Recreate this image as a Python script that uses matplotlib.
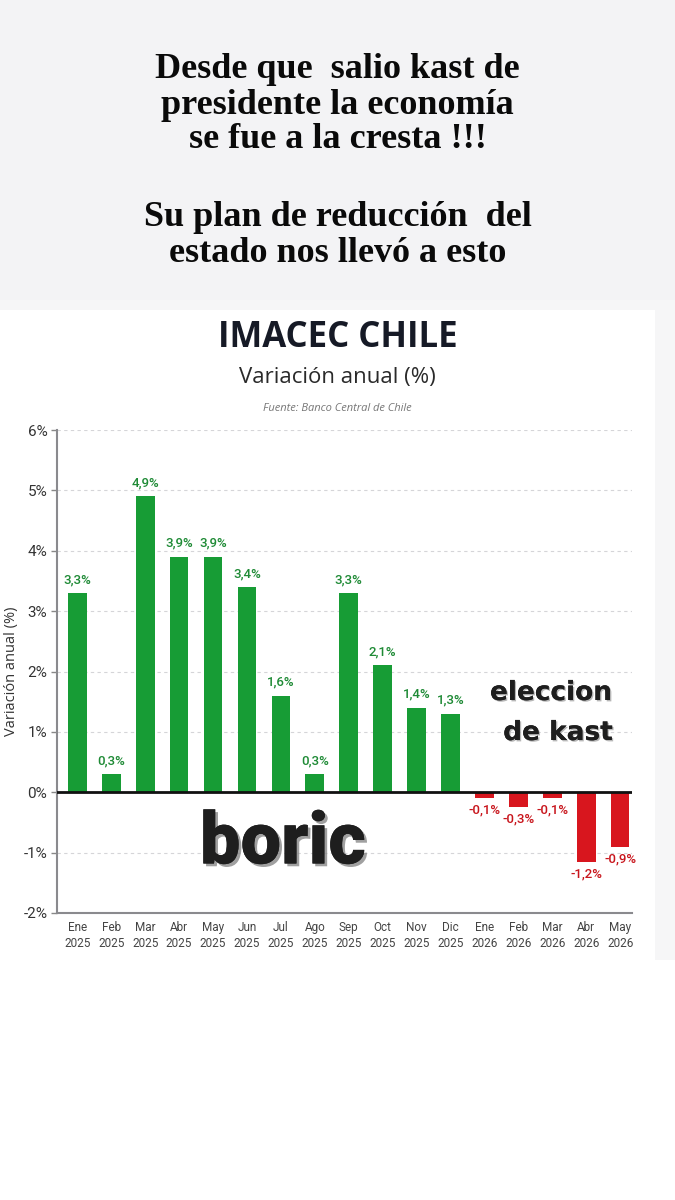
import matplotlib
matplotlib.use("Agg")
import matplotlib.pyplot as plt
import matplotlib.patheffects as pe
from matplotlib.patches import Rectangle

months = ["Ene\n2025", "Feb\n2025", "Mar\n2025", "Abr\n2025", "May\n2025", "Jun\n2025",
          "Jul\n2025", "Ago\n2025", "Sep\n2025", "Oct\n2025", "Nov\n2025", "Dic\n2025",
          "Ene\n2026", "Feb\n2026", "Mar\n2026", "Abr\n2026", "May\n2026"]
values = [3.3, 0.3, 4.9, 3.9, 3.9, 3.4, 1.6, 0.3, 3.3, 2.1, 1.4, 1.3,
          -0.1, -0.25, -0.1, -1.16, -0.9]
labels = ["3,3%", "0,3%", "4,9%", "3,9%", "3,9%", "3,4%", "1,6%", "0,3%", "3,3%", "2,1%",
          "1,4%", "1,3%", "-0,1%", "-0,3%", "-0,1%", "-1,2%", "-0,9%"]
yticks = [-2, -1, 0, 1, 2, 3, 4, 5, 6]
ytick_labels = ["-2%", "-1%", "0%", "1%", "2%", "3%", "4%", "5%", "6%"]

NARROW = ["Roboto", "DejaVu Sans"]

fig = plt.figure(figsize=(6.75, 12), dpi=100)
fig.patch.set_facecolor("white")

# backgrounds
fig.add_artist(Rectangle((0, 1 - 300/1200), 1, 300/1200, transform=fig.transFigure,
                         facecolor="#f3f3f5", edgecolor="none", zorder=0))
fig.add_artist(Rectangle((0, 1 - 310/1200), 1, 10/1200, transform=fig.transFigure,
                         facecolor="#f6f6f7", edgecolor="none", zorder=0))
fig.add_artist(Rectangle((655/675, 1 - 960/1200), 20/675, 650/1200, transform=fig.transFigure,
                         facecolor="#f6f6f7", edgecolor="none", zorder=0))

# top meme text
top_lines = [("Desde que  salio kast de", 70), ("presidente la economía", 105),
             ("se fue a la cresta !!!", 140), ("Su plan de reducción  del", 218),
             ("estado nos llevó a esto", 253)]
for txt, y in top_lines:
    fig.text(0.5, 1 - y/1200, txt, ha="center", va="center", fontsize=26,
             family=["Liberation Serif", "DejaVu Serif"], fontweight="bold", color="#0a0a0a")

# chart headings
fig.text(0.5, 1 - 338/1200, "IMACEC CHILE", ha="center", va="center", fontsize=25,
         fontweight="bold", family=["Open Sans", "DejaVu Sans"], color="#161a26")
fig.text(0.5, 1 - 378/1200, "Variación anual (%)", ha="center", va="center", fontsize=16,
         family=["Open Sans", "DejaVu Sans"], color="#2a2a2a")
fig.text(0.5, 1 - 408/1200, "Fuente: Banco Central de Chile", ha="center", va="center",
         fontsize=8, style="italic", family=["Open Sans", "DejaVu Sans"], color="#777777")

ax = fig.add_axes([57/675, 1 - 913/1200, (632 - 57)/675, (913 - 430)/1200])
ax.set_facecolor("white")
x = list(range(len(values)))
colors = ["#179c35" if v >= 0 else "#d8161e" for v in values]
ax.bar(x, values, width=0.55, color=colors, zorder=3)

for xi, v, lab in zip(x, values, labels):
    if v >= 0:
        ax.annotate(lab, (xi, v), xytext=(0, 5), textcoords="offset points", ha="center",
                    va="bottom", fontsize=9.5, color="#1e8a35", family=NARROW, fontweight="medium")
    else:
        ax.annotate(lab, (xi, v), xytext=(0, -4), textcoords="offset points", ha="center",
                    va="top", fontsize=9.5, color="#c8151c", family=NARROW, fontweight="medium")

ax.set_xlim(-0.6, 16.35)
ax.set_ylim(-2, 6)
ax.set_yticks(yticks)
ax.set_yticklabels(ytick_labels, family=NARROW, fontsize=11, color="#333333")
ax.set_xticks(x)
ax.set_xticklabels(months, family=NARROW, fontsize=8.5, color="#444444", linespacing=1.3)
ax.tick_params(axis="x", length=0, pad=6)
ax.tick_params(axis="y", length=4, width=1, color="#888888", pad=3)
for yt in yticks:
    if yt not in (0, -2):
        ax.axhline(yt, color="#d5d5d8", lw=0.8, ls=(0, (3, 3)), zorder=1)
ax.axhline(0, color="#111111", lw=2, zorder=4)
for s in ["top", "right"]:
    ax.spines[s].set_visible(False)
ax.spines["left"].set_color("#8a8a8e")
ax.spines["left"].set_linewidth(1.5)
ax.spines["bottom"].set_color("#8a8a8e")
ax.spines["bottom"].set_linewidth(1.5)
ax.set_ylabel("Variación anual (%)", fontsize=10.5, color="#333333",
              family=["Open Sans", "DejaVu Sans"], labelpad=3)

# overlay annotations
fig.text(283/675, 1 - 844/1200, "boric", ha="center", va="center", fontsize=52,
         fontweight="black", family=["Roboto", "DejaVu Sans"], color="#1e1e1e",
         path_effects=[pe.withSimplePatchShadow(offset=(2, -2), shadow_rgbFace="#888888", alpha=0.8),
                       pe.Normal()])
fig.text(551/675, 1 - 693/1200, "eleccion", ha="center", va="center", fontsize=19,
         fontweight="bold", family="DejaVu Sans", color="#1e1e1e",
         path_effects=[pe.withSimplePatchShadow(offset=(1, -1), shadow_rgbFace="#999999", alpha=0.7),
                       pe.Normal()])
fig.text(558/675, 1 - 733/1200, "de kast", ha="center", va="center", fontsize=19,
         fontweight="bold", family="DejaVu Sans", color="#1e1e1e",
         path_effects=[pe.withSimplePatchShadow(offset=(1, -1), shadow_rgbFace="#999999", alpha=0.7),
                       pe.Normal()])

fig.savefig("out.png", dpi=100, facecolor=fig.get_facecolor())
